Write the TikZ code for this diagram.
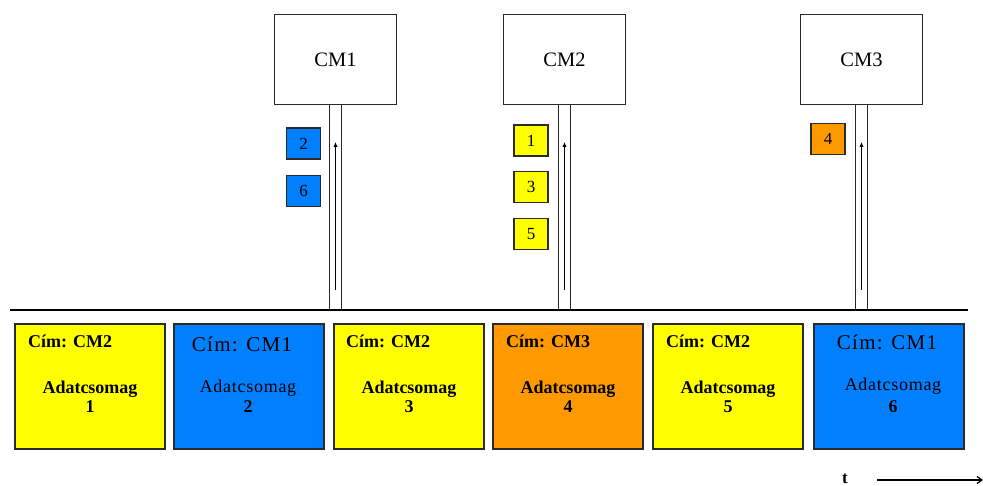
\documentclass[tikz,border=0pt]{standalone}
\usepackage{fontspec}
\setmainfont{Liberation Serif}
\usetikzlibrary{arrows.meta}
\definecolor{pyellow}{HTML}{FFFF00}
\definecolor{pblue}{HTML}{0080FF}
\definecolor{porange}{HTML}{FF9900}
\definecolor{edge}{HTML}{2A2A2A}
\begin{document}
\begin{tikzpicture}[x=1pt,y=-1pt,
  cmbox/.style={draw=edge,line width=1.3pt,fill=white,minimum width=122pt,minimum height=90pt,inner sep=0pt,font=\fontsize{20.5}{20.5}\selectfont},
  tag/.style={draw=edge,line width=1.2pt,minimum width=34pt,minimum height=31pt,inner sep=0pt,font=\fontsize{17}{17}\selectfont},
  packet/.style={draw=edge,line width=1.2pt,minimum width=150pt,minimum height=125pt,inner sep=0pt},
  btxt/.style={font=\fontsize{18}{18}\bfseries\selectfont,inner sep=0pt,anchor=base},
  baddr/.style={btxt,anchor=base west},
  rtxt/.style={font=\fontsize{18}{18}\addfontfeature{LetterSpace=4}\selectfont,inner sep=0pt,anchor=base},
  raddr/.style={font=\fontsize{21}{21}\addfontfeature{LetterSpace=6}\selectfont,inner sep=0pt,anchor=base},
  stem/.style={draw=edge,line width=1.2pt},
  uparrow/.style={draw=black,line width=1.2pt,-{Latex[length=5pt,width=4.5pt]}},
  bus/.style={draw=black,line width=2.6pt}
]
\useasboundingbox (0,0) rectangle (983,486);

% main line
\coordinate (L) at (10,310);
\coordinate (R) at (968,310);
\coordinate (abot) at (0,290);
\coordinate (atop) at (0,142);

% CM boxes
\node[cmbox] (cm1) at (335.5,59.5) {CM1};
\node[cmbox] (cm2) at (564.5,59.5) {CM2};
\node[cmbox] (cm3) at (861.5,59.5) {CM3};

\foreach \c in {cm1,cm2,cm3}{
  \draw[stem] ([xshift=-6pt]\c.south) -- ([xshift=-6pt]\c.south |- L);
  \draw[stem] ([xshift=6pt]\c.south) -- ([xshift=6pt]\c.south |- L);
  \draw[uparrow] (\c.south |- abot) -- (\c.south |- atop);
}
\draw[bus] (L) -- (R);

% tags
\node[tag,fill=pblue] (t2) at (303.5,143.5) {2};
\node[tag,fill=pblue] (t6) at (303.5,191) {6};
\node[tag,fill=pyellow] (t1) at (531,140.5) {1};
\node[tag,fill=pyellow] (t3) at (531,187) {3};
\node[tag,fill=pyellow] (t5) at (531,234) {5};
\node[tag,fill=porange] (t4) at (828,139) {4};

% packets
\node[packet,fill=pyellow] (p1) at (90,386.5) {};
\node[packet,fill=pblue]   (p2) at (249,386.5) {};
\node[packet,fill=pyellow] (p3) at (409,386.5) {};
\node[packet,fill=porange] (p4) at (568,386.5) {};
\node[packet,fill=pyellow] (p5) at (728,386.5) {};
\node[packet,fill=pblue]   (p6) at (889,386.5) {};

% yellow / orange packet texts
\node[baddr] (a1) at (28,348) {Cím: CM2};
\node[btxt] (d1) at (90,393) {Adatcsomag};
\node[btxt] (n1) at (90,413) {1};

\node[baddr] (a3) at (346,348) {Cím: CM2};
\node[btxt] (d3) at (409,393) {Adatcsomag};
\node[btxt] (n3) at (409,413) {3};

\node[baddr] (a4) at (506,348) {Cím: CM3};
\node[btxt] (d4) at (568,393) {Adatcsomag};
\node[btxt] (n4) at (568,413) {4};

\node[baddr] (a5) at (666,348) {Cím: CM2};
\node[btxt] (d5) at (728,393) {Adatcsomag};
\node[btxt] (n5) at (728,413) {5};

% blue packet texts
\node[raddr] (a2) at (242,352) {Cím: CM1};
\node[rtxt] (d2) at (248,392) {Adatcsomag};
\node[btxt] (n2) at (248,413) {2};

\node[raddr] (a6) at (887,350) {Cím: CM1};
\node[rtxt] (d6) at (893,390) {Adatcsomag};
\node[btxt] (n6) at (893,413) {6};

% time axis
\node[font=\fontsize{17}{17}\bfseries\selectfont,inner sep=0pt,anchor=base] (tl) at (845,483) {t};
\coordinate (ts) at (877,480);
\coordinate (te) at (983,480);
\draw[line width=1.2pt,-{Straight Barb[length=5pt,width=7pt]}] (ts) -- (te);
\end{tikzpicture}
\end{document}
